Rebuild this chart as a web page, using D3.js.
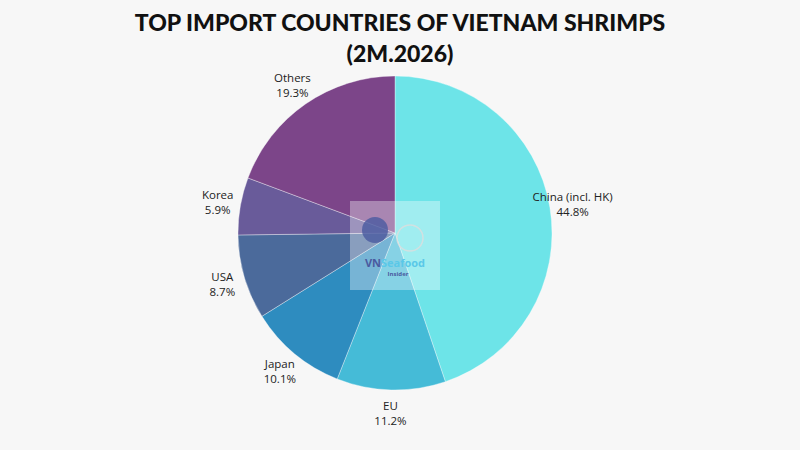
<!DOCTYPE html>
<html><head><meta charset="utf-8">
<script src="https://cdn.jsdelivr.net/npm/d3@7"></script>
<style>body{margin:0;background:#f7f7f7}svg{display:block}</style>
</head><body>
<svg id="chart" width="800" height="450"></svg>
<script>
const countries = ["China (incl. HK)", "EU", "Japan", "USA", "Korea", "Others"];
const shares = [44.8, 11.2, 10.1, 8.7, 5.9, 19.3];
const colors = ["#6de4e8", "#45bbd7", "#2e8cbf", "#4b6a9b", "#695b9a", "#7c4589"];

const svg = d3.select("#chart");
const cx = 395, cy = 233, r = 157;

svg.append("text").attr("x", 400).attr("y", 31).attr("text-anchor", "middle")
  .style("font", "900 23px Lato, 'Open Sans', sans-serif").attr("fill", "#111")
  .text("TOP IMPORT COUNTRIES OF VIETNAM SHRIMPS");
svg.append("text").attr("x", 400).attr("y", 62).attr("text-anchor", "middle")
  .style("font", "900 23px Lato, 'Open Sans', sans-serif").attr("fill", "#111")
  .text("(2M.2026)");

const pie = d3.pie().sort(null).value(d => d);
const arcs = pie(shares);
const arc = d3.arc().innerRadius(0).outerRadius(r);
const labelArc = d3.arc().innerRadius(180).outerRadius(180);

const g = svg.append("g").attr("transform", `translate(${cx},${cy})`);
g.selectAll("path").data(arcs).enter().append("path")
  .attr("d", arc).attr("fill", (d, i) => colors[i])
  .attr("stroke", "#ffffff").attr("stroke-opacity", 0.5).attr("stroke-width", 0.7);

const lab = g.selectAll("g.lab").data(arcs).enter().append("g")
  .attr("class", "lab")
  .attr("transform", d => `translate(${labelArc.centroid(d)})`);
lab.append("text").attr("text-anchor", "middle").attr("y", -3)
  .style("font", "11.5px 'Open Sans', sans-serif").attr("fill", "#222")
  .text((d, i) => countries[i]);
lab.append("text").attr("text-anchor", "middle").attr("y", 12)
  .style("font", "11.5px 'Open Sans', sans-serif").attr("fill", "#222")
  .text(d => d.data.toFixed(1) + "%");

// watermark
const w = svg.append("g");
w.append("rect").attr("x", 350).attr("y", 201).attr("width", 90).attr("height", 89)
  .attr("fill", "#ffffff").attr("opacity", 0.35);
w.append("circle").attr("cx", 375).attr("cy", 230).attr("r", 13).attr("fill", "#4a5aa0").attr("opacity", 0.8);
w.append("circle").attr("cx", 410).attr("cy", 238).attr("r", 13).attr("fill", "none")
  .attr("stroke", "#dddddd").attr("stroke-width", 1.5).attr("opacity", 0.8);
w.append("text").attr("x", 395).attr("y", 267).attr("text-anchor", "middle")
  .style("font", "bold 11px 'Open Sans', sans-serif")
  .html('<tspan fill="#4a5aa0">VN</tspan><tspan fill="#5ac8e8">Seafood</tspan>');
w.append("text").attr("x", 398).attr("y", 276).attr("text-anchor", "middle")
  .style("font", "bold 6px 'Open Sans', sans-serif").attr("fill", "#4a5aa0").text("Insider");
</script>
</body></html>
